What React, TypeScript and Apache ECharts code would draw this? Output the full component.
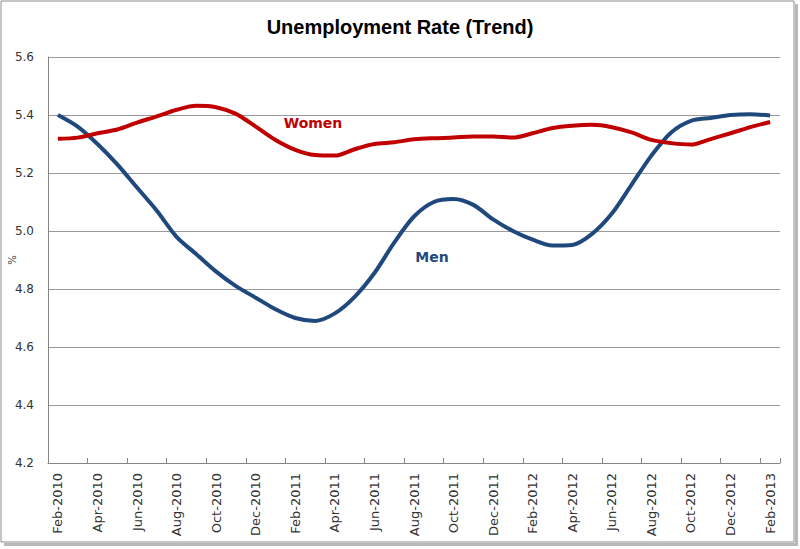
import React, { useEffect, useRef } from "react";
import * as echarts from "echarts";

const monthNames = ["Jan", "Feb", "Mar", "Apr", "May", "Jun", "Jul", "Aug", "Sep", "Oct", "Nov", "Dec"];
const categories: string[] = [];
for (let y = 2010; y <= 2013; y++) {
  for (let m = 0; m < 12; m++) {
    if ((y === 2010 && m < 1) || (y === 2013 && m > 1)) continue;
    categories.push(`${monthNames[m]}-${y}`);
  }
}

const menValues = [
  5.40, 5.36, 5.30, 5.23, 5.15, 5.07, 4.98, 4.92, 4.86, 4.81, 4.77, 4.73,
  4.70, 4.69, 4.716, 4.773, 4.855, 4.96, 5.05, 5.10, 5.11, 5.09, 5.04, 5.00,
  4.97, 4.95, 4.952, 4.99, 5.06, 5.16, 5.26, 5.34, 5.38, 5.39, 5.40, 5.403, 5.398,
];

const womenValues = [
  5.318, 5.322, 5.337, 5.35, 5.374, 5.395, 5.418, 5.432, 5.427, 5.404, 5.36, 5.314,
  5.28, 5.262, 5.26, 5.282, 5.30, 5.306, 5.316, 5.32, 5.322, 5.326, 5.326, 5.322,
  5.337, 5.355, 5.363, 5.366, 5.358, 5.34, 5.314, 5.303, 5.298, 5.317, 5.337, 5.358, 5.376,
];

const yMin = 4.2;
const yMax = 5.6;
const yStep = 0.2;

const MEN_COLOR = "#1F497D";
const WOMEN_COLOR = "#C00000";

export default function App() {
  const ref = useRef<HTMLDivElement>(null);
  useEffect(() => {
    if (!ref.current) return;
    const chart = echarts.init(ref.current, null, { renderer: "svg" });
    chart.setOption({
      animation: false,
      backgroundColor: "#ffffff",
      title: {
        text: "Unemployment Rate (Trend)",
        left: "center",
        top: 12,
        textStyle: {
          fontFamily: "Liberation Sans",
          fontWeight: "bold",
          fontSize: 20,
          color: "#000",
        },
      },
      grid: { left: 48, right: 20, top: 57, bottom: 86, containLabel: false, outerBoundsMode: "none" },
      xAxis: {
        type: "category",
        data: categories,
        boundaryGap: true,
        axisLine: { lineStyle: { color: "#868686", width: 1 } },
        axisTick: { show: true, inside: true, length: 5, interval: 1, lineStyle: { color: "#868686" } },
        axisLabel: {
          interval: 1,
          rotate: 90,
          margin: 10,
          fontFamily: "DejaVu Sans",
          fontSize: 13,
          color: "#333",
        },
        splitLine: { show: false },
      },
      yAxis: {
        type: "value",
        min: yMin,
        max: yMax,
        interval: yStep,
        axisLine: { show: true, lineStyle: { color: "#868686", width: 1 } },
        axisTick: { show: false },
        axisLabel: {
          margin: 14,
          fontFamily: "DejaVu Sans",
          fontSize: 12,
          color: "#333",
          formatter: (v: number) => v.toFixed(1),
        },
        splitLine: { show: true, lineStyle: { color: "#9A9A9A", width: 1 } },
      },
      series: [
        {
          name: "Men",
          type: "line",
          data: menValues,
          smooth: 0.3,
          showSymbol: false,
          lineStyle: { color: MEN_COLOR, width: 4 },
          itemStyle: { color: MEN_COLOR },
        },
        {
          name: "Women",
          type: "line",
          data: womenValues,
          smooth: 0.3,
          showSymbol: false,
          lineStyle: { color: WOMEN_COLOR, width: 4 },
          itemStyle: { color: WOMEN_COLOR },
        },
      ],
      graphic: [
        {
          type: "rect",
          silent: true,
          shape: { x: 1, y: 1, width: 793, height: 541 },
          style: { fill: "none", stroke: "#8C8C8C", lineWidth: 1 },
        },
        {
          type: "rect",
          silent: true,
          shape: { x: 795, y: 4, width: 3, height: 542 },
          style: { fill: "#B8B8B8" },
        },
        {
          type: "rect",
          silent: true,
          shape: { x: 4, y: 543, width: 794, height: 3 },
          style: { fill: "#B8B8B8" },
        },
        {
          type: "text",
          silent: true,
          x: 12,
          y: 260,
          rotation: Math.PI / 2,
          style: {
            text: "%",
            fill: "#333",
            font: "10px 'DejaVu Sans'",
            align: "center",
            verticalAlign: "middle",
          },
        },
        {
          type: "text",
          silent: true,
          x: 313,
          y: 123,
          style: {
            text: "Women",
            fill: WOMEN_COLOR,
            font: "bold 14px 'DejaVu Sans'",
            align: "center",
            verticalAlign: "middle",
          },
        },
        {
          type: "text",
          silent: true,
          x: 432,
          y: 257,
          style: {
            text: "Men",
            fill: MEN_COLOR,
            font: "bold 14px 'DejaVu Sans'",
            align: "center",
            verticalAlign: "middle",
          },
        },
      ],
    });
    return () => chart.dispose();
  }, []);
  return (
    <div
      ref={ref}
      style={{ position: "absolute", left: 0, top: 0, width: 800, height: 549 }}
    />
  );
}
